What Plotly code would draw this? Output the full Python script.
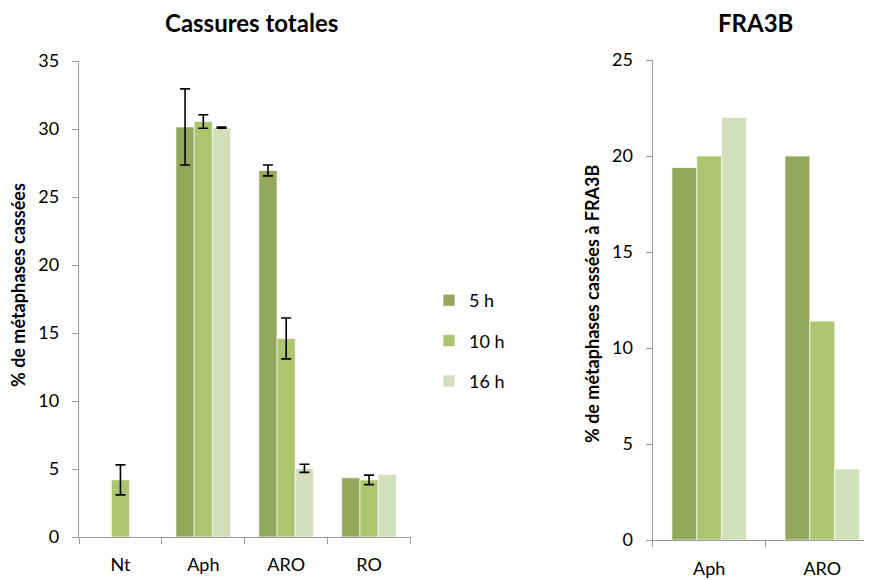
import plotly.graph_objects as go

# ---- data ----
cats_left = ["Nt", "Aph", "ARO", "RO"]
series = ["5 h", "10 h", "16 h"]
v5 = [None, 30.15, 26.95, 4.35]
v10 = [4.2, 30.55, 14.6, 4.2]
v16 = [None, 30.1, 5.05, 4.6]
NA = "NaN"  # no error bar drawn
e5 = [NA, 2.8, 0.4, NA]
e10 = [1.1, 0.5, 1.5, 0.35]
e16 = [NA, 0.05, 0.3, NA]

cats_right = ["Aph", "ARO"]
r5 = [19.4, 20.0]
r10 = [20.0, 11.4]
r16 = [22.0, 3.7]

colors = ["#93A85C", "#ADC56F", "#D1DFBA"]
FONT = "Lato, Carlito, Calibri, sans-serif"

W, H = 864, 572  # page adds an 8px body margin

fig = go.Figure()
for name, vals, errs, col in zip(series, [v5, v10, v16], [e5, e10, e16], colors):
    fig.add_trace(go.Bar(
        x=cats_left, y=vals, name=name, xaxis="x", yaxis="y",
        marker=dict(color=col, line=dict(color="rgba(255,255,255,0.7)", width=1)),
        error_y=dict(type="data", array=errs, visible=True, color="black",
                     thickness=1.6, width=5),
        legendgroup=name,
    ))
for name, vals, col in zip(series, [r5, r10, r16], colors):
    fig.add_trace(go.Bar(
        x=cats_right, y=vals, name=name, xaxis="x2", yaxis="y2",
        marker=dict(color=col, line=dict(color="rgba(255,255,255,0.7)", width=1)),
        showlegend=False, legendgroup=name,
    ))

axis_common = dict(showline=True, linecolor="#9A9A9A", linewidth=1.3,
                   ticks="outside", tickcolor="#9A9A9A", ticklen=6, tickwidth=1.3,
                   showgrid=False, zeroline=False, automargin=False,
                   tickfont=dict(family=FONT, size=18, color="black"))

fig.update_layout(
    width=W, height=H,
    margin=dict(l=0, r=0, t=0, b=0, autoexpand=False),
    paper_bgcolor="white", plot_bgcolor="white",
    barmode="group", bargap=0.34, bargroupgap=0,
    font=dict(family=FONT, size=18, color="black"),
    xaxis=dict(domain=[71/W, 402.5/W], anchor="y", range=[-0.5, 3.5],
               tickson="boundaries", ticklabelstandoff=11, **axis_common),
    yaxis=dict(domain=[1-529/H, 1-53/H], anchor="x", range=[0, 35],
               tickvals=[0, 5, 10, 15, 20, 25, 30, 35], ticklabelstandoff=9, **axis_common),
    xaxis2=dict(domain=[644.7/W, 1.0], anchor="y2", range=[-0.5, 1.44],
                tickson="boundaries", ticklabelstandoff=12, **axis_common),
    yaxis2=dict(domain=[1-532/H, 1-52/H], anchor="x2", range=[0, 25],
                tickvals=[0, 5, 10, 15, 20, 25], ticklabelstandoff=9, **axis_common),
    legend=dict(x=421/W, y=1-274/H, xanchor="left", yanchor="top",
                font=dict(family=FONT, size=18, color="black"),
                tracegroupgap=14, bgcolor="rgba(0,0,0,0)"),
    annotations=[
        dict(text="<b>Cassures totales</b>", x=244/W, y=1-14/H, xref="paper", yref="paper",
             showarrow=False, font=dict(family=FONT, size=24, color="black"),
             xanchor="center", yanchor="middle"),
        dict(text="<b>FRA3B</b>", x=747/W, y=1-14/H, xref="paper", yref="paper",
             showarrow=False, font=dict(family=FONT, size=24, color="black"),
             xanchor="center", yanchor="middle"),
        dict(text="<b>% de métaphases cassées</b>", x=10/W, y=1-277/H, xref="paper", yref="paper",
             showarrow=False, textangle=-90, font=dict(family=FONT, size=18, color="black"),
             xanchor="center", yanchor="middle"),
        dict(text="<b>% de métaphases cassées à FRA3B</b>", x=584/W, y=1-296/H, xref="paper", yref="paper",
             showarrow=False, textangle=-90, font=dict(family=FONT, size=18, color="black"),
             xanchor="center", yanchor="middle"),
    ],
)

fig.write_html("out.html")
